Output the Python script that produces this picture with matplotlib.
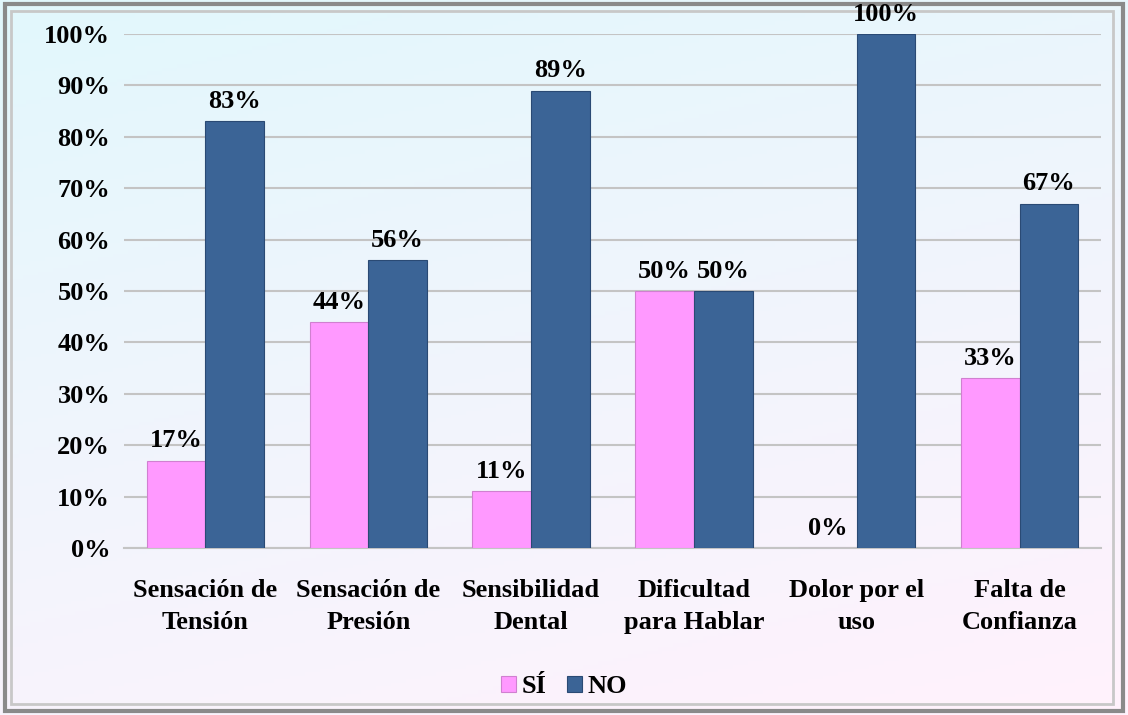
import numpy as np
import matplotlib
matplotlib.use("Agg")
import matplotlib.pyplot as plt
from matplotlib.patches import Rectangle

categorias = ["Sensación de\nTensión", "Sensación de\nPresión", "Sensibilidad\nDental",
              "Dificultad\npara Hablar", "Dolor por el\nuso", "Falta de\nConfianza"]
si = [17, 44, 11, 50, 0, 33]
no = [83, 56, 89, 50, 100, 67]
series = ["SÍ", "NO"]

plt.rcParams["font.family"] = ["Liberation Serif", "DejaVu Serif"]
plt.rcParams["font.weight"] = "bold"

fig = plt.figure(figsize=(11.28, 7.15), dpi=100)

# background gradient (light blue top-left -> pink bottom-right)
bg = fig.add_axes([0, 0, 1, 1], zorder=-10)
yy, xx = np.mgrid[0:1:200j, 0:1:300j]
t = np.clip(0.8 * yy + 0.3 * xx - 0.05, 0, 1)
top = np.array([0.89, 0.97, 0.99])
bot = np.array([1.00, 0.95, 0.99])
img = top[None, None, :] * (1 - t[..., None]) + bot[None, None, :] * t[..., None]
bg.imshow(img, extent=[0, 1, 0, 1], aspect="auto", origin="upper")
bg.add_patch(Rectangle((0.004, 0.006), 0.992, 0.988, fill=False, edgecolor="#8a8a8a", lw=3))
bg.add_patch(Rectangle((0.010, 0.016), 0.977, 0.968, fill=False, edgecolor="#c8c8c8", lw=2))
bg.set_xlim(0, 1)
bg.set_ylim(0, 1)
bg.axis("off")

ax = fig.add_axes([0.110, 0.2336, 0.866, 0.7188])
ax.patch.set_alpha(0)

x = np.arange(len(categorias))
w = 0.36
b1 = ax.bar(x - w / 2, si, w, color="#ff99ff", edgecolor="#d080d0", lw=0.8, label=series[0], zorder=3)
b2 = ax.bar(x + w / 2, no, w, color="#3b6496", edgecolor="#2a4a74", lw=0.8, label=series[1], zorder=3)

for bars, vals in ((b1, si), (b2, no)):
    for r, v in zip(bars, vals):
        ax.text(r.get_x() + r.get_width() / 2, v + 1.6, f"{v}%", ha="center", va="bottom",
                fontsize=19, fontweight="bold", zorder=4)

ax.set_xlim(-0.5, len(categorias) - 0.5)
ax.set_ylim(0, 100)
ax.set_yticks(range(0, 101, 10))
ax.set_yticklabels([f"{v}%" for v in range(0, 101, 10)], fontsize=19, fontweight="bold")
ax.set_xticks(x)
ax.set_xticklabels(categorias, fontsize=19, fontweight="bold", linespacing=1.5)
ax.tick_params(axis="both", length=0, pad=10)
ax.tick_params(axis="x", pad=22)
ax.yaxis.grid(True, color="#c4c4c4", lw=1.5, zorder=0)
for s in ("top", "right", "left"):
    ax.spines[s].set_visible(False)
ax.spines["bottom"].set_color("#c4c4c4")
ax.spines["bottom"].set_linewidth(1.5)

fig.legend(handles=[b1, b2], labels=series, loc="center", bbox_to_anchor=(0.5, 0.04),
           ncol=2, frameon=False, fontsize=19, handlelength=0.55, handleheight=0.55,
           handletextpad=0.2, columnspacing=0.8)

fig.savefig("out.png", dpi=100)
